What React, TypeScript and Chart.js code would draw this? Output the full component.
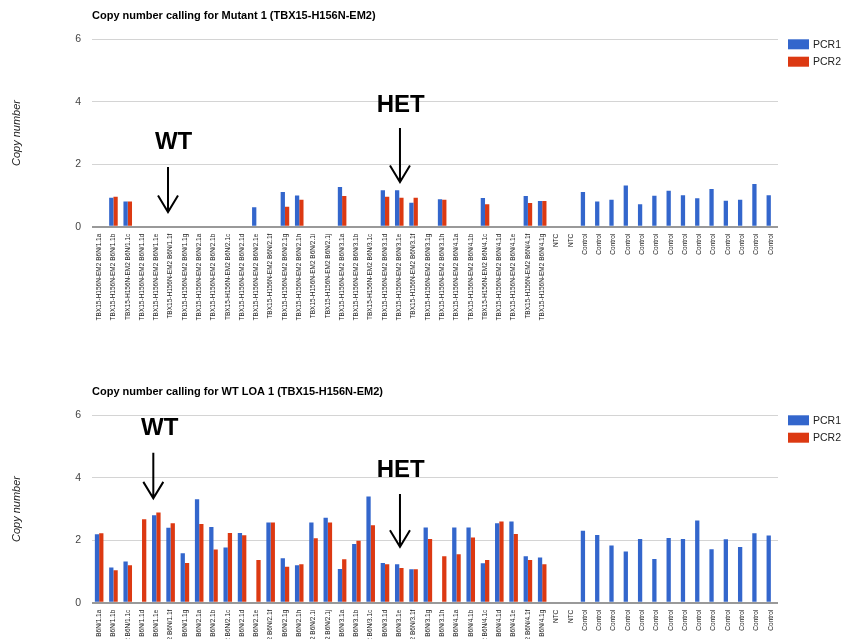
import React, { useEffect, useRef } from "react";
import { Chart, registerables } from "chart.js";

Chart.register(...registerables);

const FONT = '"Liberation Sans", Arial, sans-serif';

const sampleIds = [
  "1.1a", "1.1b", "1.1c", "1.1d", "1.1e", "1.1f", "1.1g",
  "2.1a", "2.1b", "2.1c", "2.1d", "2.1e", "2.1f", "2.1g", "2.1h", "2.1i", "2.1j",
  "3.1a", "3.1b", "3.1c", "3.1d", "3.1e", "3.1f", "3.1g", "3.1h",
  "4.1a", "4.1b", "4.1c", "4.1d", "4.1e", "4.1f", "4.1g",
];
const controlLabels = Array.from({ length: 14 }, () => "Control");
const categories = [
  ...sampleIds.map((s) => "TBX15-H156N-EM2 B6N/" + s),
  "NTC", "NTC",
  ...controlLabels,
];

const seriesNames = ["PCR1", "PCR2"];
const seriesColors = ["#3366cc", "#dc3912"];
const yTicks = [0, 2, 4, 6];

const mutantTitle = "Copy number calling for Mutant 1 (TBX15-H156N-EM2)";
const mutantPcr1 = [
  null, 0.93, 0.81, null, null, null, null,
  null, null, null, null, 0.62, null, 1.11, 1.0, null, null,
  1.27, null, null, 1.17, 1.17, 0.77, null, 0.88,
  null, null, 0.92, null, null, 0.98, 0.82,
  null, null,
  1.11, 0.81, 0.86, 1.32, 0.72, 0.99, 1.15, 1.01, 0.91, 1.21, 0.83, 0.86, 1.37, 1.01,
];
const mutantPcr2 = [
  null, 0.96, 0.81, null, null, null, null,
  null, null, null, null, null, null, 0.64, 0.86, null, null,
  0.98, null, null, 0.96, 0.93, 0.93, null, 0.86,
  null, null, 0.72, null, null, 0.76, 0.82,
  null, null,
  null, null, null, null, null, null, null, null, null, null, null, null, null, null,
];

const wtTitle = "Copy number calling for WT LOA 1 (TBX15-H156N-EM2)";
const wtPcr1 = [
  2.19, 1.13, 1.32, null, 2.8, 2.4, 1.58,
  3.31, 2.42, 1.77, 2.23, null, 2.57, 1.42, 1.2, 2.57, 2.72,
  1.08, 1.88, 3.4, 1.27, 1.23, 1.07, 2.41, null,
  2.41, 2.41, 1.26, 2.54, 2.6, 1.49, 1.45,
  null, null,
  2.3, 2.17, 1.83, 1.64, 2.04, 1.4, 2.07, 2.04, 2.63, 1.71, 2.03, 1.78, 2.22, 2.15,
];
const wtPcr2 = [
  2.22, 1.04, 1.2, 2.67, 2.89, 2.54, 1.27,
  2.52, 1.7, 2.23, 2.16, 1.37, 2.57, 1.15, 1.23, 2.06, 2.57,
  1.39, 1.98, 2.48, 1.23, 1.11, 1.07, 2.04, 1.49,
  1.55, 2.09, 1.37, 2.6, 2.2, 1.37, 1.23,
  null, null,
  null, null, null, null, null, null, null, null, null, null, null, null, null, null,
];

type Note = {
  text: string;
  idx: number; // category the arrow points at
  dx: number; // arrow offset from category centre (px)
  textDx: number;
  textBase: number; // baseline of text, in y-units
  top: number; // arrow start, y-units
  tip: number; // arrow tip, y-units
};

const mutantNotes: Note[] = [
  { text: "WT", idx: 5, dx: -2.6, textDx: 3, textBase: 2.49, top: 1.91, tip: 0.47 },
  { text: "HET", idx: 21, dx: 0.7, textDx: 1.5, textBase: 3.68, top: 3.16, tip: 1.43 },
];
const wtNotes: Note[] = [
  { text: "WT", idx: 4, dx: -3, textDx: 3.4, textBase: 5.37, top: 4.8, tip: 3.34 },
  { text: "HET", idx: 21, dx: 0.7, textDx: 1.5, textBase: 4.03, top: 3.48, tip: 1.79 },
];

type Props = {
  title: string;
  pcr1: (number | null)[];
  pcr2: (number | null)[];
  notes: Note[];
};

function CopyChart({ title, pcr1, pcr2, notes }: Props) {
  const ref = useRef<HTMLCanvasElement>(null);

  useEffect(() => {
    if (!ref.current) return;
    const extras = {
      id: "extras",
      afterDraw(chart: any) {
        const { ctx, chartArea, scales } = chart;
        const xs = scales.x;
        const ys = scales.y;
        ctx.save();
        // title
        ctx.fillStyle = "#000";
        ctx.font = "bold 11px " + FONT;
        ctx.textAlign = "left";
        ctx.textBaseline = "middle";
        ctx.fillText(title, chartArea.left, 16);
        // y-axis title
        ctx.save();
        ctx.translate(17, (chartArea.top + chartArea.bottom) / 2);
        ctx.rotate(-Math.PI / 2);
        ctx.font = "italic 11px " + FONT;
        ctx.fillStyle = "#222";
        ctx.textAlign = "center";
        ctx.fillText("Copy number", 0, 0);
        ctx.restore();
        // legend
        seriesNames.forEach((name, i) => {
          const top = chartArea.top + i * 17.4;
          ctx.fillStyle = seriesColors[i];
          ctx.fillRect(chartArea.right + 10, top, 21, 10);
          ctx.fillStyle = "#222";
          ctx.font = "10.5px " + FONT;
          ctx.textAlign = "left";
          ctx.textBaseline = "middle";
          ctx.fillText(name, chartArea.right + 35, top + 5.5);
        });
        // annotations
        notes.forEach((n) => {
          const cx = xs.getPixelForValue(n.idx);
          const ax = cx + n.dx;
          const yTop = ys.getPixelForValue(n.top);
          const yTip = ys.getPixelForValue(n.tip);
          ctx.fillStyle = "#000";
          ctx.font = "bold 24px " + FONT;
          ctx.textAlign = "center";
          ctx.textBaseline = "alphabetic";
          ctx.fillText(n.text, cx + n.textDx, ys.getPixelForValue(n.textBase));
          ctx.strokeStyle = "#000";
          ctx.lineWidth = 2;
          ctx.beginPath();
          ctx.moveTo(ax, yTop);
          ctx.lineTo(ax, yTip);
          ctx.moveTo(ax - 10, yTip - 16.5);
          ctx.lineTo(ax, yTip);
          ctx.lineTo(ax + 10, yTip - 16.5);
          ctx.stroke();
        });
        ctx.restore();
      },
    };

    const chart = new Chart(ref.current, {
      type: "bar",
      data: {
        labels: categories,
        datasets: [
          {
            label: seriesNames[0],
            data: pcr1 as any,
            backgroundColor: seriesColors[0],
            barPercentage: 1,
            categoryPercentage: 0.6,
          },
          {
            label: seriesNames[1],
            data: pcr2 as any,
            backgroundColor: seriesColors[1],
            barPercentage: 1,
            categoryPercentage: 0.6,
          },
        ],
      },
      options: {
        animation: false,
        responsive: true,
        maintainAspectRatio: false,
        events: [],
        layout: { padding: { left: 0, right: 64, top: 39.3, bottom: 0 } },
        plugins: {
          legend: { display: false },
          title: { display: false },
          tooltip: { enabled: false },
        },
        scales: {
          x: {
            grid: { display: false, drawTicks: false },
            border: { display: false },
            ticks: {
              autoSkip: false,
              minRotation: 90,
              maxRotation: 90,
              padding: 7,
              color: "#222",
              font: { family: FONT, size: 6.5 },
            },
            afterFit: (scale: any) => {
              scale.height = 149.3;
            },
          },
          y: {
            min: 0,
            max: 6,
            afterBuildTicks: (scale: any) => {
              scale.ticks = yTicks.map((v) => ({ value: v }));
            },
            grid: {
              drawTicks: false,
              color: (c: any) => (c.tick && c.tick.value === 0 ? "#999" : "#d4d4d4"),
              lineWidth: (c: any) => (c.tick && c.tick.value === 0 ? 2 : 1),
            },
            border: { display: false },
            ticks: {
              padding: 11,
              color: "#444",
              font: { family: FONT, size: 10.5 },
            },
            afterFit: (scale: any) => {
              scale.width = 92;
            },
          },
        },
      },
      plugins: [extras],
    });
    return () => chart.destroy();
  }, [title, pcr1, pcr2, notes]);

  return (
    <div style={{ position: "relative", width: 842, height: 376 }}>
      <canvas ref={ref} />
    </div>
  );
}

export default function App() {
  return (
    <div
      style={{
        position: "fixed",
        top: 0,
        left: 0,
        width: 842,
        height: 639,
        overflow: "hidden",
        background: "#fff",
      }}
    >
      <div style={{ position: "absolute", top: 0, left: 0 }}>
        <CopyChart title={mutantTitle} pcr1={mutantPcr1} pcr2={mutantPcr2} notes={mutantNotes} />
      </div>
      <div style={{ position: "absolute", top: 376, left: 0 }}>
        <CopyChart title={wtTitle} pcr1={wtPcr1} pcr2={wtPcr2} notes={wtNotes} />
      </div>
    </div>
  );
}
